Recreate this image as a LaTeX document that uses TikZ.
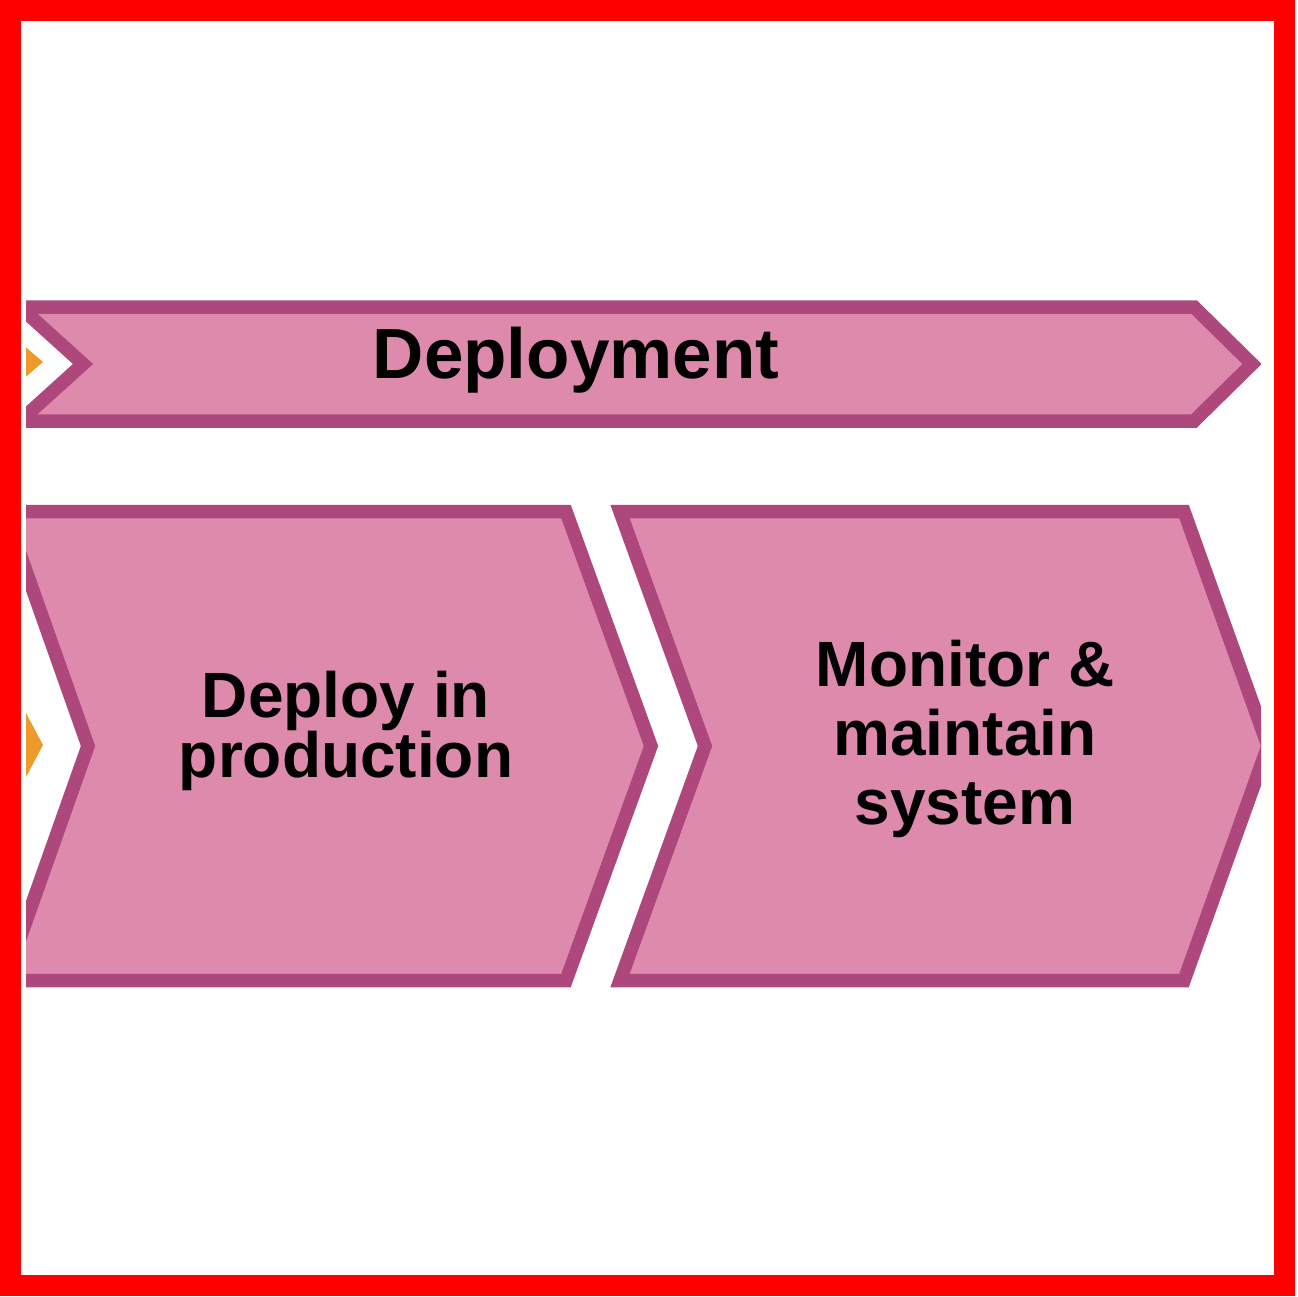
\documentclass[tikz,border=0pt]{standalone}
\usepackage{fontspec}
\setmainfont{Liberation Sans}
\definecolor{pinkfill}{RGB}{222,138,173}
\definecolor{pinkline}{RGB}{173,71,124}
\definecolor{orangefill}{RGB}{238,154,42}
\definecolor{framered}{RGB}{255,0,0}
\tikzset{
  stagebox/.style={fill=pinkfill, draw=pinkline, line width=13.5pt, line join=miter, miter limit=10},
  prevbox/.style={fill=orangefill, draw=none},
  label/.style={font=\bfseries, text=black, inner sep=0pt, align=center}
}
\begin{document}
\begin{tikzpicture}[x=1pt, y=-1pt]
\useasboundingbox (0,0) rectangle (1297,1297);
\fill[white] (0,0) rectangle (1297,1297);
\begin{scope}
  \clip (26,0) rectangle (1261,1297);
  % previous (orange) stages, cut off at the left edge
  \fill[prevbox] (0,325) -- (43,362) -- (0,399) -- cycle;
  \fill[prevbox] (-50,570) -- (43,745) -- (-50,920) -- cycle;
  % banner
  \draw[stagebox] (20,307) -- (1194,307) -- (1252,364) -- (1194,421) -- (20,421) -- (83,364) -- cycle;
  % chevrons
  \draw[stagebox] (5,511.5) -- (566,511.5) -- (651,746) -- (566,980.5) -- (5,980.5) -- (88,746) -- cycle;
  \draw[stagebox] (620,511.5) -- (1184,511.5) -- (1268,746) -- (1184,980.5) -- (620,980.5) -- (705,746) -- cycle;
\end{scope}
\node[label, anchor=base, font=\bfseries\fontsize{71}{71}\selectfont] (deployment) at (576,378) {Deployment};
\node[label, anchor=base, font=\bfseries\fontsize{64}{60}\selectfont] (deploy) at (346,777) {Deploy in\\production};
\node[label, anchor=base, font=\bfseries\fontsize{64}{69}\selectfont] (monitor) at (965,824) {Monitor \&\\maintain\\system};
% frame
\draw[framered, line width=21pt] (10.5,10.5) rectangle (1284,1285);
\end{tikzpicture}
\end{document}
